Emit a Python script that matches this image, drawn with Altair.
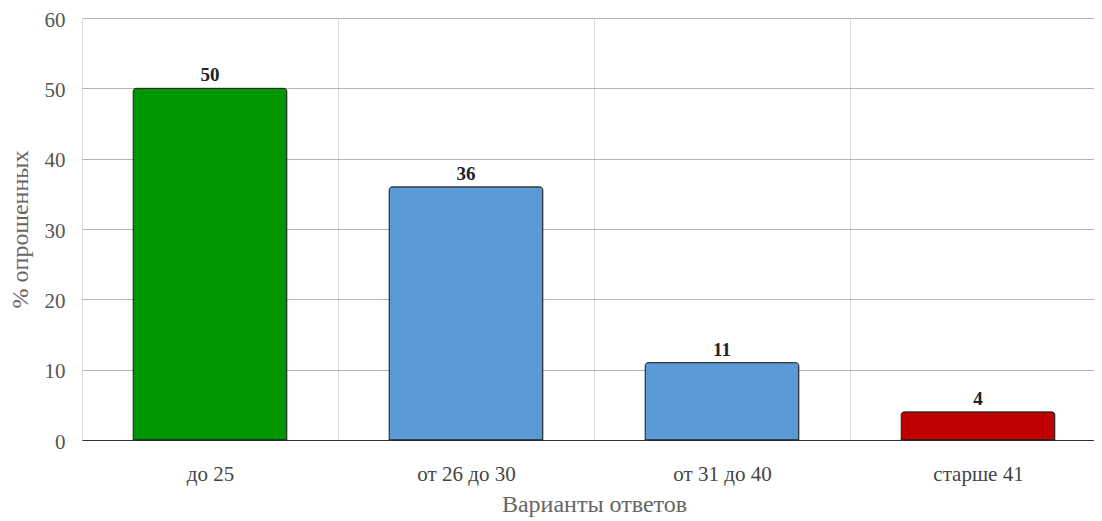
import altair as alt
import pandas as pd

categories = ["до 25", "от 26 до 30", "от 31 до 40", "старше 41"]
values = [50, 36, 11, 4]
colors = ["#009600", "#5b9bd5", "#5b9bd5", "#c00000"]

df = pd.DataFrame({"cat": categories, "val": values, "col": colors})

FONT = "Liberation Serif"

x = alt.X(
    "cat:N",
    sort=categories,
    title="Варианты ответов",
    scale=alt.Scale(paddingInner=0, paddingOuter=0, range=[0, 1024]),
    axis=alt.Axis(
        labelAngle=0,
        labelFont=FONT,
        labelFontSize=21,
        labelColor="#444444",
        labelPadding=23,
        ticks=False,
        tickSize=0,
        tickBand="extent",
        grid=True,
        gridColor="#dddddd",
        gridWidth=1,
        domain=True,
        domainColor="#333333",
        domainWidth=1,
        titleFont=FONT,
        titleFontSize=24,
        titleFontWeight="normal",
        titleColor="#666666",
        titlePadding=8,
    ),
)

y = alt.Y(
    "val:Q",
    title="% опрошенных",
    scale=alt.Scale(domain=[0, 60], nice=False),
    axis=alt.Axis(
        values=[0, 10, 20, 30, 40, 50, 60],
        labelFont=FONT,
        labelFontSize=21,
        labelColor="#555555",
        labelPadding=17,
        labelOffset=2,
        ticks=False,
        tickSize=0,
        domain=False,
        grid=True,
        gridColor="#b3b3b3",
        gridWidth=1,
        titleFont=FONT,
        titleFontSize=24,
        titleFontWeight="normal",
        titleColor="#666666",
        titlePadding=12,
    ),
)

base = alt.Chart(df)

bars = base.mark_bar(
    width=alt.RelativeBandSize(0.6),
    stroke="#222222",
    strokeWidth=1,
    cornerRadiusTopLeft=3,
    cornerRadiusTopRight=3,
).encode(
    x=x,
    y=y,
    color=alt.Color("col:N", scale=None),
)

labels = base.mark_text(
    font=FONT,
    fontSize=19,
    fontWeight="bold",
    color="#222222",
    baseline="alphabetic",
    dy=-7,
).encode(
    x=alt.X("cat:N", sort=categories),
    y=alt.Y("val:Q"),
    text=alt.Text("val:Q"),
)

chart = (
    alt.layer(bars, labels)
    .properties(
        width=1012,
        height=422,
        autosize=alt.AutoSizeParams(type="none"),
        padding={"left": 74, "top": 10, "right": 0, "bottom": 78},
    )
    .configure_view(stroke=None)
    .configure(background="white")
)

chart.save("out.html", embed_options={"renderer": "svg", "actions": False})
